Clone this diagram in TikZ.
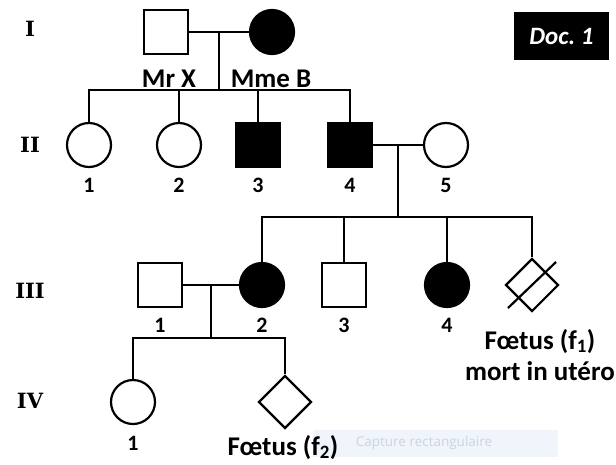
\documentclass[tikz,border=0pt]{standalone}
\usepackage{fontspec}
\setmainfont{Carlito}
\newfontfamily\romain{DejaVu Serif}
\newfontfamily\capfont{Open Sans}
\usetikzlibrary{shapes.geometric}
\definecolor{capfond}{RGB}{240,244,251}
\definecolor{captexte}{RGB}{205,212,224}
\tikzset{
	trait/.style={line width=2.2pt},
	homme/.style={trait, draw, rectangle, minimum size=43.5pt, inner sep=0pt},
	femme/.style={trait, draw, circle, minimum size=44pt, inner sep=0pt},
	foetus/.style={trait, draw, diamond, minimum size=53pt, inner sep=0pt},
	atteint/.style={fill=black},
	nom/.style={font=\fontsize{27}{32}\selectfont\bfseries, anchor=base, inner sep=0pt},
	num/.style={font=\fontsize{22}{26}\selectfont\bfseries, anchor=base, inner sep=0pt},
	gen/.style={font=\romain\fontsize{21}{25}\selectfont\bfseries, anchor=base, inner sep=0pt}
}
\begin{document}
\begin{tikzpicture}[x=1pt, y=-1pt]
	\useasboundingbox (0,0) rectangle (616,464);
	\path (0,90) coordinate (l1) (0,217) coordinate (l2) (0,338) coordinate (l3);

	% generations
	\node[gen] (gI) at (30,36) {I};
	\node[gen] (gII) at (30,152) {II};
	\node[gen] (gIII) at (30,298) {III};
	\node[gen] (gIV) at (30,408) {IV};

	% capture (fond)
	\node[fill=capfond, minimum width=245pt, minimum height=27pt, inner sep=0pt] (capt) at (435.5,443.5) {};
	\node[text=captexte, font=\capfont\fontsize{13.5}{16}\selectfont, inner sep=0pt] (captxt) at (424,443) {Capture rectangulaire};

	% generation I
	\node[homme] (I1) at (166,32) {};
	\node[femme, atteint] (I2) at (272,32) {};
	\node[nom] (nI1) at (169,87) {Mr X};
	\node[nom] (nI2) at (271,87) {Mme B};
	\draw[trait] (I1.east) -- coordinate (u1) (I2.west);
	\draw[trait] (u1) -- (u1 |- l1);

	% generation II
	\node[femme] (II1) at (89,145) {};
	\node[femme] (II2) at (179,145) {};
	\node[homme, atteint] (II3) at (258,145) {};
	\node[homme, atteint] (II4) at (350,145) {};
	\node[femme] (II5) at (446,145) {};
	\foreach \i/\x in {1/89,2/179,3/258,4/350,5/446}
		\node[num] (nII\i) at (\x,192) {\i};
	\draw[trait] (II1.north) |- (u1 |- l1) -| (II4.north);
	\foreach \e in {II2,II3}
		\draw[trait] (\e.north) -- (\e.north |- l1);
	\draw[trait] (II4.east) -- coordinate (u2) (II5.west);
	\draw[trait] (u2) -- (u2 |- l2);

	% generation III
	\node[homme] (III1) at (160,285) {};
	\node[femme, atteint] (III2) at (262,285) {};
	\node[homme] (III3) at (344,285) {};
	\node[femme, atteint] (III4) at (447,285) {};
	\node[foetus] (III5) at (532,285) {};
	\draw[trait] (III5.center) ++(-24,23) -- ++(48,-46);
	\foreach \i/\x in {1/160,2/262,3/344,4/447}
		\node[num] (nIII\i) at (\x,332) {\i};
	\node[nom] (nf1a) at (540,349) {Fœtus (f\textsubscript{1})};
	\node[nom] (nf1b) at (540,380) {mort in utéro};
	\draw[trait] (III2.north) |- (u2 |- l2) -| (III5.north);
	\foreach \e in {III3,III4}
		\draw[trait] (\e.north) -- (\e.north |- l2);
	\draw[trait] (III1.east) -- coordinate (u3) (III2.west);
	\draw[trait] (u3) -- (u3 |- l3);

	% generation IV
	\node[femme] (IV1) at (133,402) {};
	\node[foetus] (IV2) at (285,402) {};
	\draw[trait] (IV1.north) |- (u3 |- l3) -| (IV2.north);
	\node[num] (nIV1) at (133,450) {1};
	\node[nom] (nIV2) at (283,455) {Fœtus (f\textsubscript{2})};

	\node[fill=black, minimum width=95pt, minimum height=48pt, inner sep=0pt, text=white, font=\fontsize{25}{30}\selectfont\bfseries\itshape] (doc) at (561.5,36) {Doc.\ 1};
\end{tikzpicture}
\end{document}
